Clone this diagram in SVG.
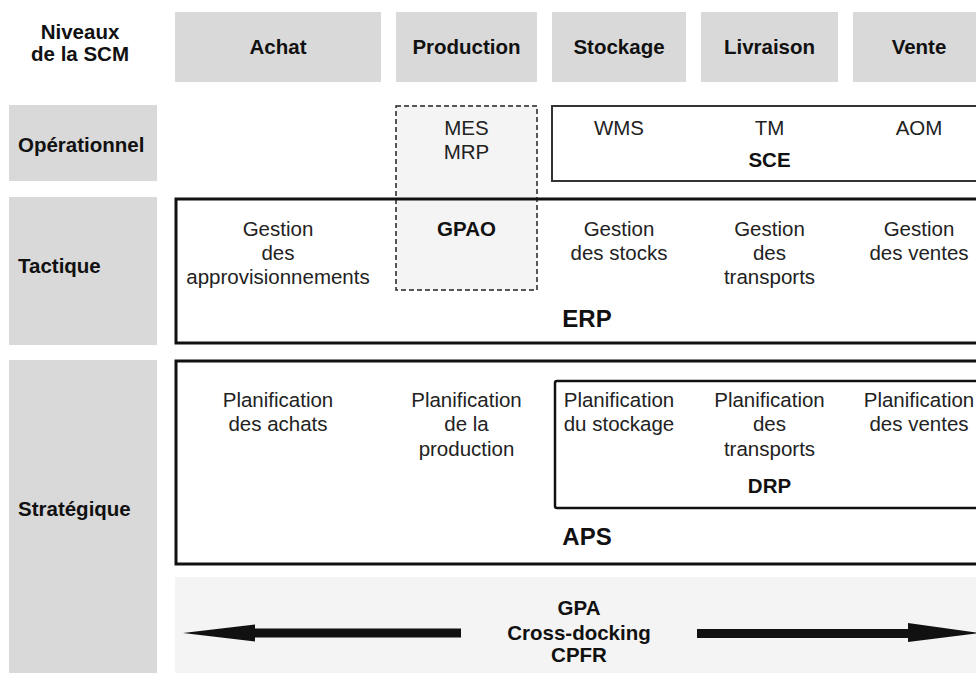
<svg xmlns="http://www.w3.org/2000/svg" width="976" height="673" viewBox="0 0 976 673">
  <style>
    text { font-family: "Liberation Sans", Arial, sans-serif; fill: #111; }
    .b { font-weight: bold; font-size: 20.5px; }
    .r { font-size: 20.5px; fill: #222; }
    .big { font-weight: bold; font-size: 24px; }
    .c { text-anchor: middle; }
    .hdr { fill: #d9d9d9; }
    .pale { fill: #f4f4f4; }
    .frame { fill: none; stroke: #111; stroke-width: 3; }
  </style>

  <!-- column headers -->
  <g id="corner">
    <text class="b c" x="80" y="39">Niveaux</text>
    <text class="b c" x="80" y="61">de la SCM</text>
  </g>
  <g id="col-achat">
    <rect class="hdr" x="175" y="12" width="206" height="70"/>
    <text class="b c" x="278" y="54">Achat</text>
  </g>
  <g id="col-production">
    <rect class="hdr" x="396" y="12" width="141" height="70"/>
    <text class="b c" x="466.5" y="54">Production</text>
  </g>
  <g id="col-stockage">
    <rect class="hdr" x="552" y="12" width="134" height="70"/>
    <text class="b c" x="619" y="54">Stockage</text>
  </g>
  <g id="col-livraison">
    <rect class="hdr" x="701" y="12" width="137" height="70"/>
    <text class="b c" x="769.5" y="54">Livraison</text>
  </g>
  <g id="col-vente">
    <rect class="hdr" x="853" y="12" width="132" height="70"/>
    <text class="b c" x="919" y="54">Vente</text>
  </g>

  <!-- row headers -->
  <g id="row-operationnel">
    <rect class="hdr" x="9" y="105" width="148" height="76"/>
    <text class="b" x="18" y="152">Opérationnel</text>
  </g>
  <g id="row-tactique">
    <rect class="hdr" x="9" y="197" width="148" height="148"/>
    <text class="b" x="18" y="273">Tactique</text>
  </g>
  <g id="row-strategique">
    <rect class="hdr" x="9" y="360" width="148" height="313"/>
    <text class="b" x="18" y="516">Stratégique</text>
  </g>

  <!-- production systems (dashed) -->
  <g id="gpao">
    <rect class="pale" x="396" y="106" width="141" height="184" stroke="#222" stroke-width="1.5" stroke-dasharray="5 3"/>
    <text class="r c" x="466.5" y="135">MES</text>
    <text class="r c" x="466.5" y="159">MRP</text>
    <text class="b c" x="466.5" y="236">GPAO</text>
  </g>

  <!-- SCE -->
  <g id="sce">
    <rect x="552" y="106" width="440" height="75" fill="#fff" stroke="#333" stroke-width="2"/>
    <text class="r c" x="619" y="135">WMS</text>
    <text class="r c" x="769.5" y="135">TM</text>
    <text class="r c" x="919" y="135">AOM</text>
    <text class="b c" x="769.5" y="167">SCE</text>
  </g>

  <!-- ERP -->
  <g id="erp">
    <rect class="frame" x="176" y="199" width="820" height="144"/>
    <text class="r c" x="278" y="236">Gestion</text>
    <text class="r c" x="278" y="260">des</text>
    <text class="r c" x="278" y="284">approvisionnements</text>
    <text class="r c" x="619" y="236">Gestion</text>
    <text class="r c" x="619" y="260">des stocks</text>
    <text class="r c" x="769.5" y="236">Gestion</text>
    <text class="r c" x="769.5" y="260">des</text>
    <text class="r c" x="769.5" y="284">transports</text>
    <text class="r c" x="919" y="236">Gestion</text>
    <text class="r c" x="919" y="260">des ventes</text>
    <text class="big c" x="587" y="327">ERP</text>
  </g>

  <!-- APS -->
  <g id="aps">
    <rect class="frame" x="176" y="361" width="820" height="203"/>
    <text class="r c" x="278" y="407">Planification</text>
    <text class="r c" x="278" y="431">des achats</text>
    <text class="r c" x="466.5" y="407">Planification</text>
    <text class="r c" x="466.5" y="431">de la</text>
    <text class="r c" x="466.5" y="456">production</text>
    <text class="big c" x="587" y="545">APS</text>
  </g>

  <!-- DRP -->
  <g id="drp">
    <rect x="555" y="381" width="440" height="127" rx="2" fill="none" stroke="#111" stroke-width="2.5"/>
    <text class="r c" x="619" y="407">Planification</text>
    <text class="r c" x="619" y="431">du stockage</text>
    <text class="r c" x="769.5" y="407">Planification</text>
    <text class="r c" x="769.5" y="431">des</text>
    <text class="r c" x="769.5" y="456">transports</text>
    <text class="b c" x="769.5" y="493">DRP</text>
    <text class="r c" x="919" y="407">Planification</text>
    <text class="r c" x="919" y="431">des ventes</text>
  </g>

  <!-- cross-cutting practices -->
  <g id="practices">
    <rect class="pale" x="175" y="577" width="810" height="96"/>
    <text class="b c" x="579" y="615">GPA</text>
    <text class="b c" x="579" y="640">Cross-docking</text>
    <text class="b c" x="579" y="662">CPFR</text>
  </g>

  <!-- connectors -->
  <g id="connectors" fill="#111">
    <polygon points="183,633 255,624.5 255,628.5 461,628.5 461,637.5 255,637.5 255,641.5"/>
    <polygon points="697,629 908,629 908,623 980,633 908,642 908,638 697,638"/>
  </g>
</svg>
